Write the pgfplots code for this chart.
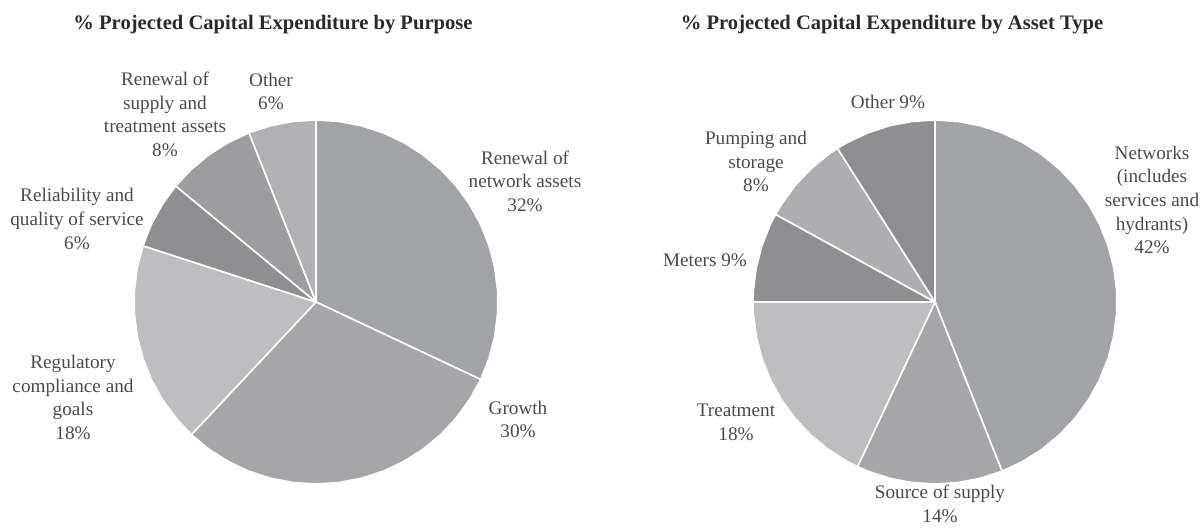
\documentclass[border=0pt]{standalone}
\usepackage{fontspec}
\setmainfont{Liberation Serif}
\usepackage{pgfplots}
\pgfplotsset{compat=1.18}
\usepgfplotslibrary{polar}

% slice greys
\definecolor{pA}{HTML}{A2A3A7}
\definecolor{pB}{HTML}{A6A6A9}
\definecolor{pC}{HTML}{BEBEC0}
\definecolor{pD}{HTML}{8F8F92}
\definecolor{pE}{HTML}{9D9DA0}
\definecolor{pF}{HTML}{B1B1B3}
\definecolor{qE}{HTML}{AEAEB1}
\definecolor{qF}{HTML}{8E8E91}
\definecolor{lbl}{HTML}{4A4A4A}
\definecolor{ttl}{HTML}{2A2A2A}

\pgfplotsset{
  slice/.style={fill=#1, draw=white, line width=0.8pt},
}

\begin{document}
\begin{tikzpicture}
\path[use as bounding box] (0,0) rectangle (600pt,-264.5pt);

% left pie: % by purpose (x = cumulative percent, clockwise from top)
\begin{polaraxis}[
  at={(158pt,-151pt)}, anchor=center,
  hide axis, scale only axis, width=182pt, height=182pt,
  ymin=0, ymax=1, clip=false,
  x coord trafo/.code={\pgfmathparse{90-3.6*#1}},
  ]
  % Renewal of network assets 32
  \addplot[slice=pA] coordinates {(0,0)(0,1)(2,1)(4,1)(6,1)(8,1)(10,1)(12,1)(14,1)(16,1)(18,1)(20,1)(22,1)(24,1)(26,1)(28,1)(30,1)(32,1)(32,0)};
  % Growth 30
  \addplot[slice=pB] coordinates {(32,0)(32,1)(34,1)(36,1)(38,1)(40,1)(42,1)(44,1)(46,1)(48,1)(50,1)(52,1)(54,1)(56,1)(58,1)(60,1)(62,1)(62,0)};
  % Regulatory compliance and goals 18
  \addplot[slice=pC] coordinates {(62,0)(62,1)(64,1)(66,1)(68,1)(70,1)(72,1)(74,1)(76,1)(78,1)(80,1)(80,0)};
  % Reliability and quality of service 6
  \addplot[slice=pD] coordinates {(80,0)(80,1)(82,1)(84,1)(86,1)(86,0)};
  % Renewal of supply and treatment assets 8
  \addplot[slice=pE] coordinates {(86,0)(86,1)(88,1)(90,1)(92,1)(94,1)(94,0)};
  % Other 6
  \addplot[slice=pF] coordinates {(94,0)(94,1)(96,1)(98,1)(100,1)(100,0)};
\end{polaraxis}

% right pie: % by asset type
\begin{polaraxis}[
  at={(467.5pt,-151pt)}, anchor=center,
  hide axis, scale only axis, width=182pt, height=182pt,
  ymin=0, ymax=1, clip=false,
  x coord trafo/.code={\pgfmathparse{90-3.6*#1}},
  ]
  % Networks 44
  \addplot[slice=pA] coordinates {(0,0)(0,1)(2,1)(4,1)(6,1)(8,1)(10,1)(12,1)(14,1)(16,1)(18,1)(20,1)(22,1)(24,1)(26,1)(28,1)(30,1)(32,1)(34,1)(36,1)(38,1)(40,1)(42,1)(44,1)(44,0)};
  % Source of supply 13
  \addplot[slice=pB] coordinates {(44,0)(44,1)(46,1)(48,1)(50,1)(52,1)(54,1)(56,1)(57,1)(57,0)};
  % Treatment 18
  \addplot[slice=pC] coordinates {(57,0)(57,1)(58,1)(60,1)(62,1)(64,1)(66,1)(68,1)(70,1)(72,1)(74,1)(75,1)(75,0)};
  % Meters 8
  \addplot[slice=pD] coordinates {(75,0)(75,1)(76,1)(78,1)(80,1)(82,1)(83,1)(83,0)};
  % Pumping and storage 8
  \addplot[slice=qE] coordinates {(83,0)(83,1)(84,1)(86,1)(88,1)(90,1)(91,1)(91,0)};
  % Other 9
  \addplot[slice=qF] coordinates {(91,0)(91,1)(92,1)(94,1)(96,1)(98,1)(100,1)(100,0)};
\end{polaraxis}

\begin{scope}[x=0.5pt, y=-0.5pt]
  \node[font=\fontsize{10.3pt}{12pt}\selectfont\bfseries, text=ttl] at (273,25) {\% Projected Capital Expenditure by Purpose};
  \node[font=\fontsize{10.3pt}{12pt}\selectfont\bfseries, text=ttl] at (892,25) {\% Projected Capital Expenditure by Asset Type};
  \begin{scope}[every node/.style={font=\fontsize{9.6pt}{11.8pt}\selectfont, text=lbl, align=center, inner sep=0pt}]
    \node at (525,181) {Renewal of\\network assets\\32\%};
    \node at (518,419.5) {Growth\\30\%};
    \node at (73,397.5) {Regulatory\\compliance and\\goals\\18\%};
    \node at (77,219) {Reliability and\\quality of service\\6\%};
    \node at (165,114.5) {Renewal of\\supply and\\treatment assets\\8\%};
    \node at (271,91.5) {Other\\6\%};
    \node at (888,102) {Other 9\%};
    \node at (756,161.5) {Pumping and\\storage\\8\%};
    \node at (705,260) {Meters 9\%};
    \node at (1152,200) {Networks\\(includes\\services and\\hydrants)\\42\%};
    \node at (736,422.5) {Treatment\\18\%};
    \node at (940,504) {Source of supply\\14\%};
  \end{scope}
\end{scope}
\end{tikzpicture}
\end{document}
